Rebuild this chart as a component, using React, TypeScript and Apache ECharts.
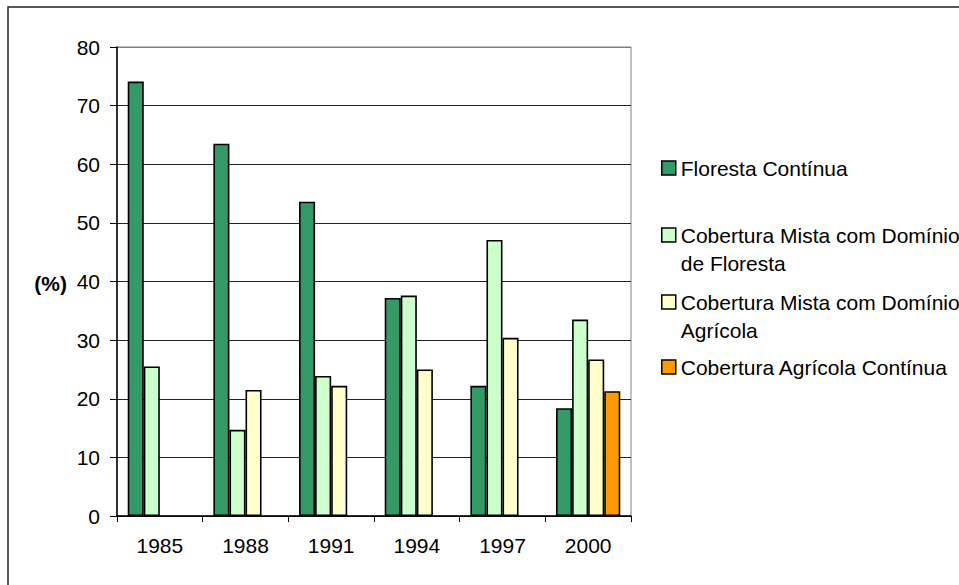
import React, { useEffect, useRef } from "react";
import * as echarts from "echarts";

// Land-cover share by survey year (%)
const years = ["1985", "1988", "1991", "1994", "1997", "2000"];
const florestaContinua = [74.1, 63.5, 53.6, 37.2, 22.2, 18.4];
const mistaFloresta = [25.5, 14.7, 23.9, 37.6, 47.1, 33.5];
const mistaAgricola = [null, 21.5, 22.2, 25.0, 30.4, 26.7];
const agricolaContinua = [null, null, null, null, null, 21.3];

const seriesNames = [
  "Floresta Contínua",
  "Cobertura Mista com Domínio de Floresta",
  "Cobertura Mista com Domínio Agrícola",
  "Cobertura Agrícola Contínua",
];
const legendLabels = [
  ["Floresta Contínua"],
  ["Cobertura Mista com Domínio", "de Floresta"],
  ["Cobertura Mista com Domínio", "Agrícola"],
  ["Cobertura Agrícola Contínua"],
];
const seriesColors = ["#339966", "#CCFFCC", "#FFFFCC", "#FF9900"];
const yTicks = [0, 10, 20, 30, 40, 50, 60, 70, 80];

const FONT = "'Liberation Sans', Arial, sans-serif";
const FS = 21;
const LINE = 28;

export default function App() {
  const ref = useRef<HTMLDivElement>(null);

  useEffect(() => {
    if (!ref.current) return;
    const chart = echarts.init(ref.current, undefined, { renderer: "svg" });
    const values = [florestaContinua, mistaFloresta, mistaAgricola, agricolaContinua];

    // one legend block per entry; wrapped labels get an empty lead line so
    // that the marker sits level with their first line
    const legendTops = [154, 193, 260, 353];
    const legends = seriesNames.map((name, i) => {
      const lines = legendLabels[i];
      const text = lines.length > 1 ? ["", ...lines].join("\n") : lines[0];
      return {
        show: true,
        orient: "vertical",
        left: 661,
        top: legendTops[i],
        padding: 0,
        icon: "rect",
        itemWidth: 14,
        itemHeight: 14,
        selectedMode: false,
        itemStyle: { borderColor: "#000", borderWidth: 1.5 },
        textStyle: {
          fontFamily: FONT,
          fontSize: FS,
          color: "#000",
          lineHeight: LINE,
        },
        formatter: () => text,
        data: [name],
      };
    });

    chart.setOption({
      animation: false,
      backgroundColor: "#fff",
      textStyle: { fontFamily: FONT },
      grid: {
        left: 117,
        right: 328,
        top: 47,
        bottom: 69,
        show: true,
        borderColor: "#808080",
        borderWidth: 1,
        backgroundColor: "transparent",
      },
      legend: legends,
      xAxis: {
        type: "category",
        data: years,
        axisLine: { lineStyle: { color: "#000", width: 1.5 } },
        axisTick: { show: true, length: 6, lineStyle: { color: "#000" } },
        axisLabel: { color: "#000", fontSize: FS, fontFamily: FONT, margin: 19 },
      },
      yAxis: {
        type: "value",
        min: 0,
        max: 80,
        interval: 10,
        axisLine: { show: true, lineStyle: { color: "#000", width: 1.5 } },
        axisTick: { show: true, length: 7, lineStyle: { color: "#000" } },
        axisLabel: { color: "#000", fontSize: FS, fontFamily: FONT, margin: 17 },
        splitLine: {
          show: true,
          lineStyle: {
            width: 1,
            color: yTicks.map((t) => (t === 80 ? "#808080" : "#222")),
          },
        },
      },
      series: seriesNames.map((name, i) => ({
        name,
        type: "bar",
        data: values[i],
        barGap: "0%",
        barCategoryGap: "25%",
        itemStyle: { color: seriesColors[i], borderColor: "#000", borderWidth: 1.6 },
      })),
      graphic: [
        {
          type: "rect",
          silent: true,
          shape: { x: 8, y: 7, width: 1200, height: 1200 },
          style: { fill: "none", stroke: "#222", lineWidth: 1.5 },
        },
        {
          type: "text",
          x: 67,
          y: 283,
          style: {
            text: "(%)",
            fontFamily: FONT,
            fontSize: FS,
            fontWeight: "bold",
            fill: "#000",
            align: "right",
            verticalAlign: "middle",
          },
        },
      ],
    });

    return () => chart.dispose();
  }, []);

  return (
    <div
      ref={ref}
      style={{ position: "absolute", left: 0, top: 0, width: 959, height: 585 }}
    />
  );
}
